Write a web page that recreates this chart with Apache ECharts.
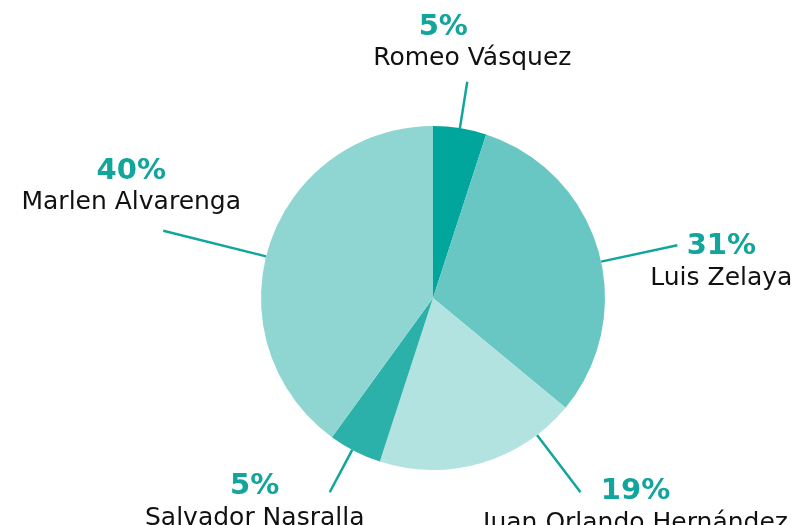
<!DOCTYPE html>
<html>
<head>
<meta charset="utf-8">
<script src="https://cdn.jsdelivr.net/npm/echarts@6/dist/echarts.min.js"></script>
<style>
  html, body { margin: 0; padding: 0; background: #fff; }
  #chart { width: 809px; height: 525px; }
</style>
</head>
<body>
<div id="chart"></div>
<script>
// data
var candidates = ["Romeo Vásquez", "Luis Zelaya", "Juan Orlando Hernández", "Salvador Nasralla", "Marlen Alvarenga"];
var shares = [5, 31, 19, 5, 40];
var sliceColors = ["#00a59b", "#68c7c2", "#b3e3e0", "#2bb1a9", "#8fd6d2"];

// leader lines / label placement (styling only)
var lineLength = [47, 78, 72, 48, 106];
var lineTurn = [0, 4, -21, 1, -4];          // degrees, rotate the leader around the centre
var labelShift = [[5, -71], [44, -15], [55, -17], [-75, -22], [-32, -76]];
var CX = 433, CY = 298, R = 172;

var myChart = echarts.init(document.getElementById("chart"));

var pieData = candidates.map(function (name, i) {
	return {
		name: name,
		value: shares[i],
		itemStyle: { color: sliceColors[i] },
		labelLine: { length: lineLength[i], length2: 0 }
	};
});

function turn(p, deg) {
	var a = deg * Math.PI / 180;
	var dx = p[0] - CX, dy = p[1] - CY;
	return [CX + dx * Math.cos(a) - dy * Math.sin(a), CY + dx * Math.sin(a) + dy * Math.cos(a)];
}

var FONT = "DejaVu Sans";

myChart.setOption({
	animation: false,
	series: [{
		type: "pie",
		center: [CX, CY],
		radius: R,
		startAngle: 90,
		clockwise: true,
		avoidLabelOverlap: false,
		data: pieData,
		label: {
			position: "outside",
			formatter: function (p) {
				var tag = p.dataIndex === 0 ? "pl" : "p";
				return "{" + tag + "|" + p.value + "%}\n{n|" + p.name + "}";
			},
			rich: {
				p: { fontFamily: FONT, fontSize: 29, fontWeight: "bold", color: "#12a59b", lineHeight: 33, align: "center" },
				pl: { fontFamily: FONT, fontSize: 29, fontWeight: "bold", color: "#12a59b", lineHeight: 33, align: "center", padding: [0, 58, 0, 0] },
				n: { fontFamily: FONT, fontSize: 25, color: "#111", lineHeight: 30, align: "center" }
			}
		},
		labelLine: {
			show: true,
			lineStyle: { color: "#12a59b", width: 2.5 }
		},
		emphasis: { disabled: true },
		labelLayout: function (params) {
			var i = params.dataIndex;
			var pts = params.labelLinePoints.map(function (p) { return turn(p, lineTurn[i]); });
			var end = pts[pts.length - 1];
			return {
				x: end[0] + labelShift[i][0],
				y: end[1] + labelShift[i][1],
				align: "center",
				verticalAlign: "top",
				labelLinePoints: pts
			};
		}
	}]
});
</script>
</body>
</html>
